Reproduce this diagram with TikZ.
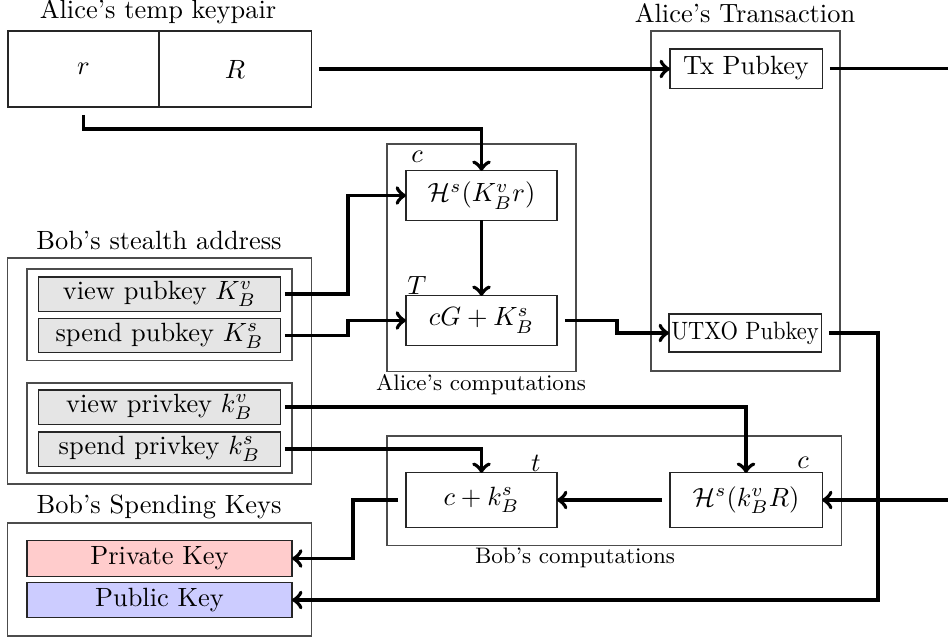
\documentclass[tikz,border=0pt]{standalone}
\usetikzlibrary{calc}

\tikzset{
  keybox/.style={draw=black!85, inner sep=0pt, outer sep=0pt},
  greykey/.style={keybox, fill=black!10, minimum width=92pt, minimum height=12.9pt},
  frame/.style={draw=black!70, inner sep=0pt, outer sep=0pt},
  caption/.style={inner sep=0pt},
  smallcaption/.style={caption, font=\fontsize{8.5}{10}\selectfont},
  flow/.style={line width=1.5pt, ->, shorten <=3pt},
  flowtight/.style={line width=1.5pt, ->, shorten <=1.5pt},
}

\begin{document}
\begin{tikzpicture}[x=0.3788pt, y=-0.3788pt]
\useasboundingbox (0,0) rectangle (948,640);
\clip (0,0) rectangle (948,640);

% ---- containers ----
\node[frame, minimum width=71.6pt, minimum height=128.8pt] (txframe) at (745.5,201) {};
\node[frame, minimum width=71.6pt, minimum height=86pt] (acframe) at (481.5,257.5) {};
\node[frame, minimum width=172pt, minimum height=41.3pt] (bcframe) at (614,490.5) {};
\node[frame, minimum width=114.8pt, minimum height=85.6pt] (saframe) at (159.5,371) {};
\node[frame, minimum width=100.4pt, minimum height=34.5pt] (pubgroup) at (159.5,314.5) {};
\node[frame, minimum width=100.4pt, minimum height=34.1pt] (privgroup) at (159.5,428) {};
\node[frame, minimum width=114.8pt, minimum height=42.8pt] (skframe) at (159.5,579.5) {};

% ---- titles and captions ----
\node[caption] (tkeypair) at (158,12) {Alice's temp keypair};
\node[caption] (ttx) at (745,13) {Alice's Transaction};
\node[caption] (tsa) at (159,240) {Bob's stealth address};
\node[caption] (tsk) at (159,507) {Bob's Spending Keys};
\node[smallcaption] (tac) at (481,385) {Alice's computations};
\node[smallcaption] (tbc) at (575,558) {Bob's computations};

% ---- Alice's temp keypair ----
\node[keybox, minimum width=57.2pt, minimum height=28.8pt] (r) at (83.5,69) {$r$};
\node[keybox, minimum width=57.6pt, minimum height=28.8pt] (R) at (235,69) {$R$};

% ---- Alice's transaction ----
\node[keybox, minimum width=57.6pt, minimum height=14.8pt] (tx) at (746,68.5) {Tx Pubkey};
\node[keybox, minimum width=57.6pt, minimum height=14.4pt] (utxo) at (745,333) {\scalebox{0.85}[0.95]{UTXO Pubkey}};

% ---- Alice's computations ----
\node[keybox, minimum width=57.2pt, minimum height=18.6pt] (hsa) at (481.5,195.5) {$\mathcal{H}^s(K_B^v r)$};
\node[keybox, minimum width=57.2pt, minimum height=18.6pt] (cg) at (481.5,320.5) {$cG + K_B^s$};
\node[caption] (lc1) at (417,157) {$c$};
\node[caption] (lT) at (417,285) {$T$};

% ---- Bob's computations ----
\node[keybox, minimum width=57.2pt, minimum height=20.5pt] (ck) at (481.5,500) {$c + k_B^s$};
\node[keybox, minimum width=57.6pt, minimum height=20.5pt] (hsb) at (746,500) {$\mathcal{H}^s(k_B^v R)$};
\node[caption] (lt) at (536,463) {$t$};
\node[caption] (lc2) at (803,463) {$c$};

% ---- Bob's stealth address ----
\node[greykey] (vpub) at (159.5,294) {view pubkey $K_B^v$};
\node[greykey] (spub) at (159.5,335.5) {spend pubkey $K_B^s$};
\node[greykey] (vpriv) at (159.5,407) {view privkey $k_B^v$};
\node[greykey] (spriv) at (159.5,449) {spend privkey $k_B^s$};

% ---- Bob's spending keys ----
\node[keybox, fill=red!20, minimum width=100.4pt, minimum height=13.3pt] (privkey) at (159.5,558.5) {Private Key};
\node[keybox, fill=blue!20, minimum width=100.4pt, minimum height=13.3pt] (pubkey) at (159.5,600) {Public Key};

% ---- routing points ----
\coordinate (rbend) at (0,129);
\coordinate (pubbend) at (348,0);
\coordinate (cgbend) at (617,0);
\coordinate (utxobend) at (878,0);
\coordinate (ckbend) at (353,0);
\coordinate (farright) at (965,0);

% ---- connectors ----
\draw[flow] (R.east) -- (R.east -| tx.west);
\draw[flow] (r.south) -- (r.south |- rbend) -| (hsa.north);
\draw[flowtight] (vpub.east) -- (vpub.east -| pubbend) |- (hsa.west);
\draw[flowtight] (spub.east) -- (spub.east -| pubbend) |- (cg.west);
\draw[line width=1.5pt, ->] (hsa.south) -- (cg.north);
\draw[flow] (cg.east) -- (cg.east -| cgbend) |- (utxo.west);
\draw[flow] (tx.east) -| (farright |- hsb.east) -- (hsb.east);
\draw[flow] (utxo.east) -| (utxobend |- pubkey.east) -- (pubkey.east);
\draw[flowtight] (vpriv.east) -| (hsb.north);
\draw[flowtight] (spriv.east) -| (ck.north);
\draw[flow] (hsb.west) -- (ck.east);
\draw[flow] (ck.west) -- (ck.west -| ckbend) |- (privkey.east);
\end{tikzpicture}
\end{document}
